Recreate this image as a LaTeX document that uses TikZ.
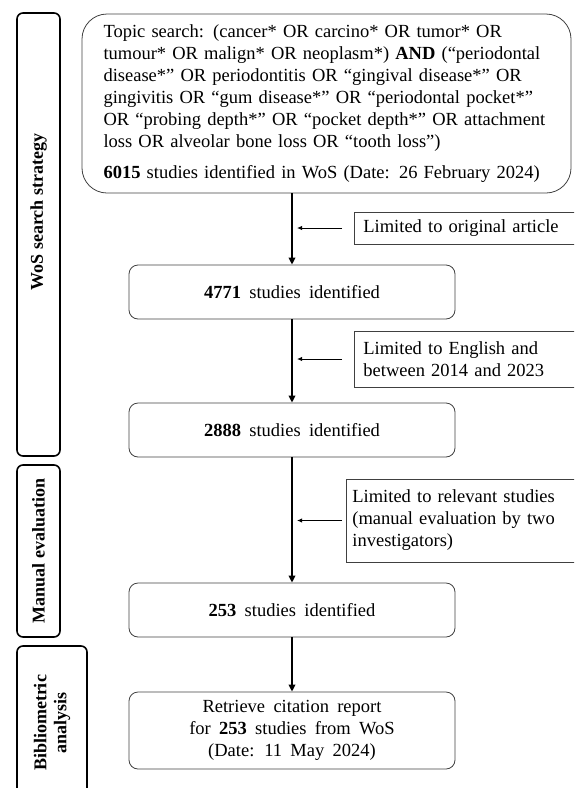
\documentclass[tikz,border=0pt]{standalone}
\usepackage{fontspec}
\setmainfont{Liberation Serif}
\usetikzlibrary{arrows.meta}
\DeclareRobustCommand\boxfont{\fontsize{18.5}{22}\selectfont\spaceskip=0.45em plus 0.1em minus 0.05em\relax}

\begin{document}
\begin{tikzpicture}[x=1pt,y=-1pt,
  stepbox/.style={draw=black!75,rounded corners=9pt,line width=0.8pt,minimum width=326pt,minimum height=54pt,font=\boxfont},
  limitbox/.style={draw=black!75,line width=0.8pt,anchor=west,align=left,inner xsep=9pt,font=\boxfont},
  phase/.style={draw,rounded corners=6pt,line width=1.6pt,minimum width=43pt},
  phaselabel/.style={rotate=90,font=\fontsize{18}{20}\selectfont\bfseries,align=center},
  flow/.style={-{Triangle[length=7pt,width=6.5pt]},line width=1.8pt},
  cut/.style={-{Latex[length=5pt,width=4.5pt]},line width=1pt}]
  \useasboundingbox (0,0) rectangle (574,788);
  \clip (0,0) rectangle (574,788);

  \node[phase,minimum height=443pt] (wos) at (38.5,234.5) {};
  \node[phaselabel] (woslabel) at (38.5,212) {WoS search strategy};
  \node[phase,minimum height=172pt] (manual) at (38.5,551) {};
  \node[phaselabel] (manuallabel) at (manual) {Manual evaluation};
  \node[phase,minimum width=70pt,minimum height=150pt] (biblio) at (52,721) {};
  \node[phaselabel] (bibliolabel) at (52,723) {Bibliometric\\analysis};

  \node[draw=black!75,rounded corners=25pt,line width=0.8pt,font=\boxfont,align=left,text width=446pt,inner xsep=21.5pt,minimum height=179pt] (search) at (326.5,103.5) {Topic search: (cancer* OR carcino* OR tumor* OR\\tumour* OR malign* OR neoplasm*) \textbf{AND} (“periodontal\\disease*” OR periodontitis OR “gingival disease*” OR\\gingivitis OR “gum disease*” OR “periodontal pocket*”\\OR “probing depth*” OR “pocket depth*” OR attachment\\loss OR alveolar bone loss OR “tooth loss”)\\[9pt]\textbf{6015} studies identified in WoS (Date: 26 February 2024)};
  \node[stepbox] (n4771) at (292,292) {\textbf{4771} studies identified};
  \node[stepbox] (n2888) at (292,430) {\textbf{2888} studies identified};
  \node[stepbox] (n253) at (292,610) {\textbf{253} studies identified};
  \node[stepbox,align=center,minimum height=77pt] (retrieve) at (292,730.5) {Retrieve citation report\\for \textbf{253} studies from WoS\\(Date: 11 May 2024)};

  \node[limitbox,text width=204pt,minimum height=32pt] (lim1) at (354,228) {Limited to original article};
  \node[limitbox,text width=204pt,minimum height=56pt] (lim2) at (354,359) {Limited to English and\\between 2014 and 2023};
  \node[limitbox,inner xsep=6pt,text width=218pt,minimum height=83pt] (lim3) at (346,520.5) {Limited to relevant studies\\(manual evaluation by two\\investigators)};

  \draw[flow] (search.south -| n4771.north) -- (n4771.north);
  \draw[flow] (n4771) -- (n2888);
  \draw[flow] (n2888) -- (n253);
  \draw[flow] (n253) -- (retrieve);

  \draw[cut] ([xshift=-12pt]lim1.west) -- ([xshift=5pt]lim1.west -| n4771.north);
  \draw[cut] ([xshift=-12pt]lim2.west) -- ([xshift=5pt]lim2.west -| n2888.north);
  \draw[cut] ([xshift=-4pt]lim3.west) -- ([xshift=5pt]lim3.west -| n253.north);
\end{tikzpicture}
\end{document}
